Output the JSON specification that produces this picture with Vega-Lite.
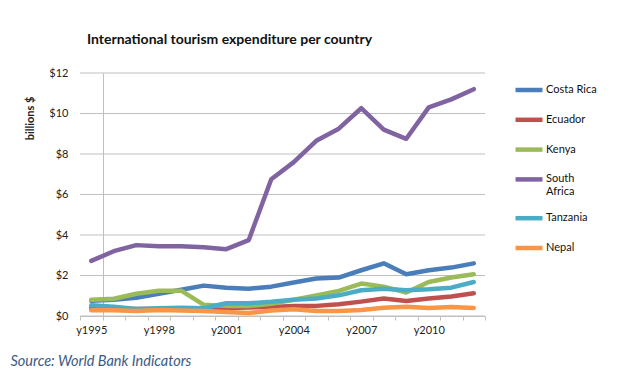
{
  "$schema": "https://vega.github.io/schema/vega-lite/v6.json",
  "width": 405,
  "height": 243,
  "autosize": "none",
  "padding": {"left": 80, "top": 73, "right": 138, "bottom": 65},
  "background": "white",
  "config": {
    "font": "Lato",
    "view": {"stroke": null},
    "axis": {"labelFont": "Lato", "titleFont": "Lato", "labelColor": "#222", "titleColor": "#222"}
  },
  "title": {
    "text": "International tourism expenditure per country",
    "anchor": "start",
    "frame": "group",
    "dx": 7,
    "offset": 20,
    "fontSize": 14,
    "fontWeight": "bold",
    "font": "Lato",
    "color": "#111"
  },
  "resolve": {"axis": {"y": "independent"}},
  "layer": [
    {
      "data": {"values": [{"value": 0}, {"value": 2}, {"value": 4}, {"value": 6}, {"value": 8}, {"value": 10}, {"value": 12}]},
      "mark": {"type": "rule", "color": "#bfbfbf", "strokeWidth": 1},
      "encoding": {
        "y": {"field": "value", "type": "quantitative", "axis": null}
      }
    },
    {
      "data": {
        "values": [
          {"country":"Costa Rica","year":"y1995","value":0.75},{"country":"Costa Rica","year":"y1996","value":0.8},{"country":"Costa Rica","year":"y1997","value":0.9},{"country":"Costa Rica","year":"y1998","value":1.1},{"country":"Costa Rica","year":"y1999","value":1.3},{"country":"Costa Rica","year":"y2000","value":1.5},{"country":"Costa Rica","year":"y2001","value":1.4},{"country":"Costa Rica","year":"y2002","value":1.35},{"country":"Costa Rica","year":"y2003","value":1.45},{"country":"Costa Rica","year":"y2004","value":1.65},{"country":"Costa Rica","year":"y2005","value":1.85},{"country":"Costa Rica","year":"y2006","value":1.9},{"country":"Costa Rica","year":"y2007","value":2.26},{"country":"Costa Rica","year":"y2008","value":2.6},{"country":"Costa Rica","year":"y2009","value":2.06},{"country":"Costa Rica","year":"y2010","value":2.26},{"country":"Costa Rica","year":"y2011","value":2.39},{"country":"Costa Rica","year":"y2012","value":2.6},
          {"country":"Ecuador","year":"y1995","value":0.38},{"country":"Ecuador","year":"y1996","value":0.38},{"country":"Ecuador","year":"y1997","value":0.35},{"country":"Ecuador","year":"y1998","value":0.35},{"country":"Ecuador","year":"y1999","value":0.37},{"country":"Ecuador","year":"y2000","value":0.38},{"country":"Ecuador","year":"y2001","value":0.4},{"country":"Ecuador","year":"y2002","value":0.42},{"country":"Ecuador","year":"y2003","value":0.45},{"country":"Ecuador","year":"y2004","value":0.5},{"country":"Ecuador","year":"y2005","value":0.5},{"country":"Ecuador","year":"y2006","value":0.58},{"country":"Ecuador","year":"y2007","value":0.71},{"country":"Ecuador","year":"y2008","value":0.86},{"country":"Ecuador","year":"y2009","value":0.74},{"country":"Ecuador","year":"y2010","value":0.86},{"country":"Ecuador","year":"y2011","value":0.96},{"country":"Ecuador","year":"y2012","value":1.12},
          {"country":"Kenya","year":"y1995","value":0.8},{"country":"Kenya","year":"y1996","value":0.85},{"country":"Kenya","year":"y1997","value":1.1},{"country":"Kenya","year":"y1998","value":1.25},{"country":"Kenya","year":"y1999","value":1.25},{"country":"Kenya","year":"y2000","value":0.55},{"country":"Kenya","year":"y2001","value":0.5},{"country":"Kenya","year":"y2002","value":0.5},{"country":"Kenya","year":"y2003","value":0.6},{"country":"Kenya","year":"y2004","value":0.8},{"country":"Kenya","year":"y2005","value":1.02},{"country":"Kenya","year":"y2006","value":1.24},{"country":"Kenya","year":"y2007","value":1.6},{"country":"Kenya","year":"y2008","value":1.45},{"country":"Kenya","year":"y2009","value":1.16},{"country":"Kenya","year":"y2010","value":1.68},{"country":"Kenya","year":"y2011","value":1.9},{"country":"Kenya","year":"y2012","value":2.06},
          {"country":"South Africa","year":"y1995","value":2.72},{"country":"South Africa","year":"y1996","value":3.2},{"country":"South Africa","year":"y1997","value":3.5},{"country":"South Africa","year":"y1998","value":3.45},{"country":"South Africa","year":"y1999","value":3.45},{"country":"South Africa","year":"y2000","value":3.4},{"country":"South Africa","year":"y2001","value":3.3},{"country":"South Africa","year":"y2002","value":3.75},{"country":"South Africa","year":"y2003","value":6.75},{"country":"South Africa","year":"y2004","value":7.6},{"country":"South Africa","year":"y2005","value":8.65},{"country":"South Africa","year":"y2006","value":9.25},{"country":"South Africa","year":"y2007","value":10.26},{"country":"South Africa","year":"y2008","value":9.2},{"country":"South Africa","year":"y2009","value":8.75},{"country":"South Africa","year":"y2010","value":10.3},{"country":"South Africa","year":"y2011","value":10.7},{"country":"South Africa","year":"y2012","value":11.2},
          {"country":"Tanzania","year":"y1995","value":0.53},{"country":"Tanzania","year":"y1996","value":0.46},{"country":"Tanzania","year":"y1997","value":0.35},{"country":"Tanzania","year":"y1998","value":0.38},{"country":"Tanzania","year":"y1999","value":0.41},{"country":"Tanzania","year":"y2000","value":0.38},{"country":"Tanzania","year":"y2001","value":0.63},{"country":"Tanzania","year":"y2002","value":0.63},{"country":"Tanzania","year":"y2003","value":0.7},{"country":"Tanzania","year":"y2004","value":0.8},{"country":"Tanzania","year":"y2005","value":0.86},{"country":"Tanzania","year":"y2006","value":1.02},{"country":"Tanzania","year":"y2007","value":1.27},{"country":"Tanzania","year":"y2008","value":1.35},{"country":"Tanzania","year":"y2009","value":1.27},{"country":"Tanzania","year":"y2010","value":1.32},{"country":"Tanzania","year":"y2011","value":1.4},{"country":"Tanzania","year":"y2012","value":1.68},
          {"country":"Nepal","year":"y1995","value":0.28},{"country":"Nepal","year":"y1996","value":0.28},{"country":"Nepal","year":"y1997","value":0.25},{"country":"Nepal","year":"y1998","value":0.3},{"country":"Nepal","year":"y1999","value":0.27},{"country":"Nepal","year":"y2000","value":0.25},{"country":"Nepal","year":"y2001","value":0.2},{"country":"Nepal","year":"y2002","value":0.15},{"country":"Nepal","year":"y2003","value":0.27},{"country":"Nepal","year":"y2004","value":0.33},{"country":"Nepal","year":"y2005","value":0.25},{"country":"Nepal","year":"y2006","value":0.25},{"country":"Nepal","year":"y2007","value":0.3},{"country":"Nepal","year":"y2008","value":0.41},{"country":"Nepal","year":"y2009","value":0.46},{"country":"Nepal","year":"y2010","value":0.4},{"country":"Nepal","year":"y2011","value":0.45},{"country":"Nepal","year":"y2012","value":0.4}
        ]
      },
      "mark": {"type": "line", "strokeWidth": 4.5, "strokeCap": "round", "strokeJoin": "round"},
      "encoding": {
        "x": {
          "field": "year",
          "type": "nominal",
          "bandPosition": 0.5,
          "scale": {"type": "band", "paddingInner": 0, "paddingOuter": 0},
          "axis": {
            "labelAngle": 0,
            "tickBand": "extent",
            "domainColor": "#bfbfbf",
            "tickColor": "#bfbfbf",
            "tickSize": 4,
            "grid": true,
            "gridColor": {"condition": {"test": "datum.value === 'y1995'", "value": "#bfbfbf"}, "value": "transparent"},
            "labelPadding": 4,
            "labelFontSize": 11,
            "labelExpr": "indexof(['y1995','y1998','y2001','y2004','y2007','y2010'], datum.value) >= 0 ? datum.label : ''",
            "title": "Source: World Bank Indicators",
            "titleFont": "Lato",
            "titleFontStyle": "italic",
            "titleFontWeight": "normal",
            "titleFontSize": 14.5,
            "titleColor": "#3a5a86",
            "titleAlign": "left",
            "titleAnchor": "start",
            "titleBaseline": "middle",
            "titleX": -70,
            "titleY": 45
          }
        },
        "y": {
          "field": "value",
          "type": "quantitative",
          "scale": {"domain": [0, 12]},
          "axis": {
            "orient": "left",
            "values": [0, 2, 4, 6, 8, 10, 12],
            "labelExpr": "'$' + datum.value",
            "domain": false,
            "ticks": false,
            "grid": false,
            "labelPadding": 12,
            "labelFontSize": 11,
            "title": "billions $",
            "titleFontWeight": "bold",
            "titleFontSize": 11,
            "titleAngle": -90,
            "titleAlign": "center",
            "titleBaseline": "middle",
            "titleX": -50,
            "titleY": 45
          }
        },
        "color": {
          "field": "country",
          "type": "nominal",
          "scale": {
            "domain": ["Costa Rica", "Ecuador", "Kenya", "South Africa", "Tanzania", "Nepal"],
            "range": ["#4a7ebb", "#c0504d", "#9bbb59", "#8064a2", "#4bacc6", "#f79646"]
          },
          "legend": {
            "orient": "none",
            "legendX": 433,
            "legendY": 1,
            "title": null,
            "symbolType": "stroke",
            "symbolSize": 729,
            "symbolStrokeWidth": 4.5,
            "labelFontSize": 11,
            "labelFont": "Lato",
            "labelColor": "#111",
            "labelOffset": 1,
            "rowPadding": 4.8,
            "labelExpr": "datum.label == 'South Africa' ? ['South', 'Africa'] : datum.label"
          }
        }
      }
    }
  ]
}
